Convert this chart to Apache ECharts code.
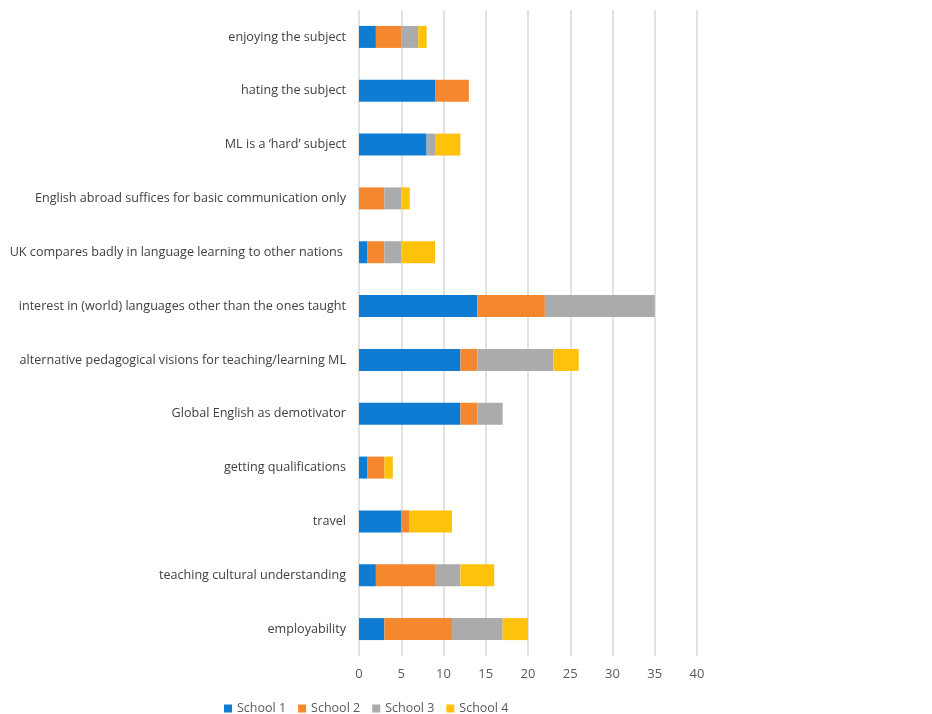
<!DOCTYPE html>
<html>
<head>
<meta charset="utf-8">
<script src="https://cdn.jsdelivr.net/npm/echarts@6/dist/echarts.min.js"></script>
<style>
  html, body { margin: 0; padding: 0; background: #fff; }
  #chart { width: 932px; height: 714px; }
</style>
</head>
<body>
<div id="chart"></div>
<script>
var categories = [
    'enjoying the subject',
    'hating the subject',
    'ML is a \u2018hard\u2019 subject',
    'English abroad suffices for basic communication only',
    'UK compares badly in language learning to other nations ',
    'interest in (world) languages other than the ones taught',
    'alternative pedagogical visions for teaching/learning ML',
    'Global English as demotivator',
    'getting qualifications',
    'travel',
    'teaching cultural understanding',
    'employability'
];
var school1 = [2, 9, 8, 0, 1, 14, 12, 12, 1, 5, 2, 3];
var school2 = [3, 4, 0, 3, 2, 8, 2, 2, 2, 1, 7, 8];
var school3 = [2, 0, 1, 2, 2, 13, 9, 3, 0, 0, 3, 6];
var school4 = [1, 0, 3, 1, 4, 0, 3, 0, 1, 5, 4, 3];
var seriesNames = ['School 1', 'School 2', 'School 3', 'School 4'];

var chart = echarts.init(document.getElementById('chart'));

function makeSeries(name, data) {
    return {
        name: name,
        type: 'bar',
        stack: 'total',
        barWidth: 22,
        data: data
    };
}

var option = {
    animation: false,
    color: ['#0F7CD3', '#F5872F', '#ABABAB', '#FFC20A'],
    textStyle: { fontFamily: 'Open Sans' },
    grid: {
        left: 359,
        right: 235,
        top: 10,
        bottom: 58
    },
    legend: {
        data: seriesNames,
        left: 219,
        top: 697,
        icon: 'rect',
        itemWidth: 8,
        itemHeight: 8,
        itemGap: 12,
        textStyle: { fontSize: 12.5, color: '#595959', fontFamily: 'Open Sans' }
    },
    xAxis: {
        type: 'value',
        min: 0,
        max: 40,
        interval: 5,
        axisLine: { show: false },
        axisTick: { show: false },
        splitLine: { lineStyle: { color: '#D9D9D9', width: 1.5 } },
        axisLabel: { color: '#595959', fontSize: 13, margin: 12 }
    },
    yAxis: {
        type: 'category',
        inverse: true,
        data: categories,
        axisLine: { show: false },
        axisTick: { show: false },
        axisLabel: { color: '#404040', fontSize: 12.6, margin: 13 }
    },
    series: [
        makeSeries(seriesNames[0], school1),
        makeSeries(seriesNames[1], school2),
        makeSeries(seriesNames[2], school3),
        makeSeries(seriesNames[3], school4)
    ]
};
chart.setOption(option);
</script>
</body>
</html>
